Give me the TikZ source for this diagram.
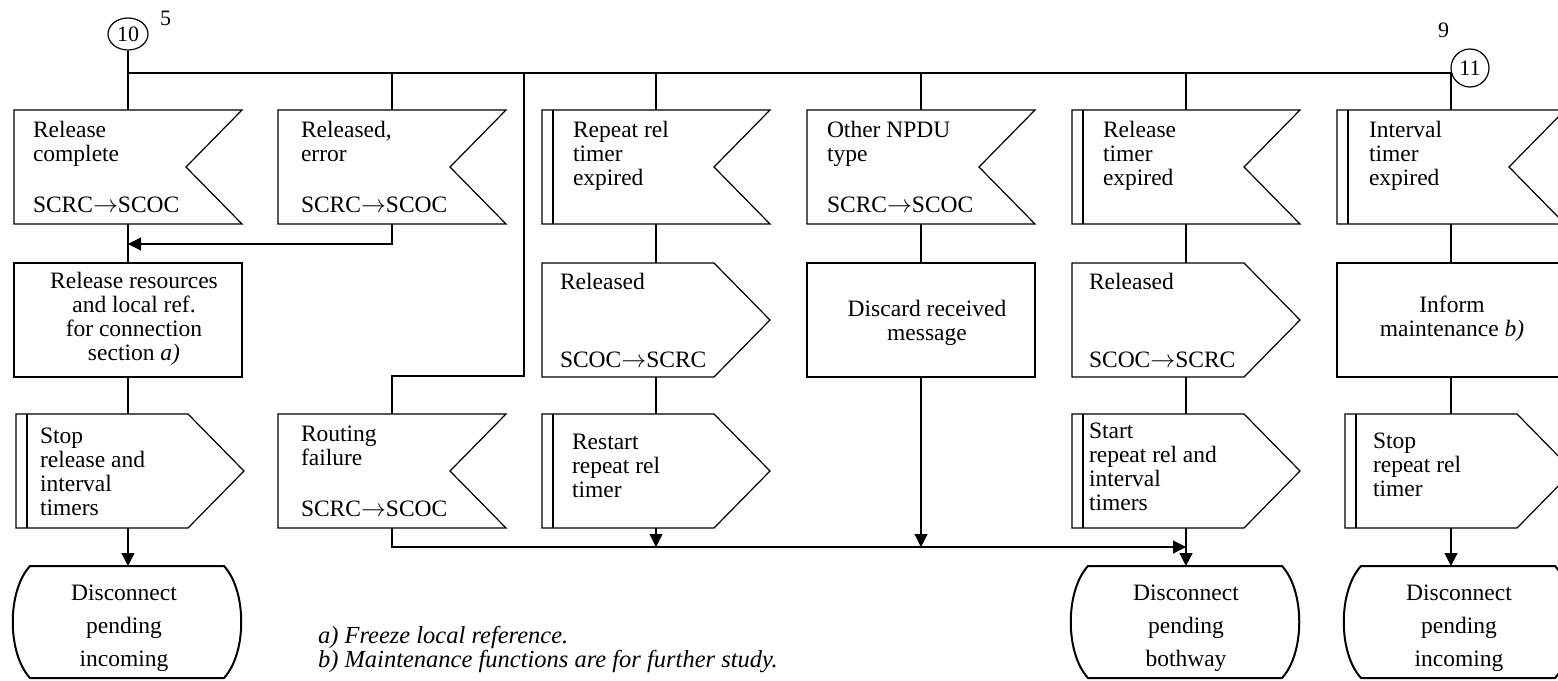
\documentclass[tikz,border=0pt]{standalone}
\usepackage{fontspec}
\setmainfont{Liberation Serif}
\usetikzlibrary{calc,arrows.meta,shapes.geometric}
\newcommand\fsz{\fontsize{23.5}{24}\selectfont}
\newcommand\tsz{\fontsize{23.5}{33}\selectfont}
\newcommand\csz{\fontsize{22}{24}\selectfont}
\newcommand\fnsz{\fontsize{24.5}{23.5}\selectfont}
\newcommand\ar{\ensuremath{\rightarrow}}
\newcommand\tl[1]{\begin{tabular}[t]{@{}l@{}}#1\end{tabular}}
\newcommand\tc[1]{\begin{tabular}[t]{@{}c@{}}#1\end{tabular}}
\newcommand\inshape[1]{\draw[ln] (#1.north west) -- (#1.north east) -- ($(#1.east)+(-56,0)$) -- (#1.south east) -- (#1.south west) -- cycle;}
\newcommand\outshape[1]{\draw[ln] (#1.north west) -- ($(#1.north east)+(-56,0)$) -- (#1.east) -- ($(#1.south east)+(-56,0)$) -- (#1.south west) -- cycle;}
\newcommand\procshape[1]{\draw[ln] (#1.north west) rectangle (#1.south east);}
\newcommand\barmark[1]{\draw[barln] ($(#1.north west)+(11,0)$) -- ($(#1.south west)+(11,0)$);}
\newcommand\termshape[1]{\draw[term] ($(#1.north west)+(17,0)$) -- ($(#1.north east)+(-17,0)$) .. controls ($(#1.north east)+(6,25)$) and ($(#1.south east)+(6,-25)$) .. ($(#1.south east)+(-17,0)$) -- ($(#1.south west)+(17,0)$) .. controls ($(#1.south west)+(-6,-25)$) and ($(#1.north west)+(-6,25)$) .. cycle;}
\tikzset{
  ln/.style={line width=1.2pt},
  barln/.style={line width=2.4pt},
  term/.style={line width=2pt},
  bx/.style={draw=none, rectangle, minimum width=228, minimum height=114, inner sep=0, outer sep=0},
  tbx/.style={draw=none, rectangle, minimum width=228, minimum height=112, inner sep=0, outer sep=0},
  tx/.style={inner sep=0, outer sep=0, font=\fsz},
  ttx/.style={inner sep=0, outer sep=0, font=\tsz, anchor=base},
  arr/.style={ln, -{Triangle[width=13pt,length=13pt]}},
}
\begin{document}
\begin{tikzpicture}[x=1pt,y=-1pt]
\useasboundingbox (0,0) rectangle (1558,680);

% connectors circles and labels
\node[ellipse, draw, ln, minimum width=40, minimum height=32, inner sep=0, font=\csz] (c10) at (128,34) {10};
\node[circle, draw, ln, minimum size=38, inner sep=0, font=\csz] (c11) at (1470,68) {11};
\node[tx, font=\csz, anchor=base west] (l5) at (160,25) {5};
\node[tx, font=\csz, anchor=base west] (l9) at (1438,37) {9};

% row 1
\node[bx] (b1) at (128,167) {};
\node[bx] (b2) at (392,167) {};
\node[bx] (b3) at (656,167) {};
\node[bx] (b4) at (921,167) {};
\node[bx] (b5) at (1186,167) {};
\node[bx] (b6) at (1451,167) {};
\inshape{b1}\inshape{b2}\inshape{b3}\inshape{b4}\inshape{b5}\inshape{b6}
\barmark{b3}\barmark{b5}\barmark{b6}
\node[tx, anchor=base west] (b1t) at (33,137) {\tl{Release\\complete}};
\node[tx, anchor=base west] (b1s) at (33,212) {SCRC\ar SCOC};
\node[tx, anchor=base west] (b2t) at (301,137) {\tl{Released,\\error}};
\node[tx, anchor=base west] (b2s) at (301,212) {SCRC\ar SCOC};
\node[tx, anchor=base west] (b3t) at (573,137) {\tl{Repeat rel\\timer\\expired}};
\node[tx, anchor=base west] (b4t) at (827,137) {\tl{Other NPDU\\type}};
\node[tx, anchor=base west] (b4s) at (827,212) {SCRC\ar SCOC};
\node[tx, anchor=base west] (b5t) at (1103,137) {\tl{Release\\timer\\expired}};
\node[tx, anchor=base west] (b6t) at (1369,137) {\tl{Interval\\timer\\expired}};

% row 2
\node[bx] (p1) at (128,320) {};
\node[bx] (o3) at (656,320) {};
\node[bx] (p4) at (921,320) {};
\node[bx] (o5) at (1186,320) {};
\node[bx] (p6) at (1451,320) {};
\procshape{p1}\outshape{o3}\procshape{p4}\outshape{o5}\procshape{p6}
\node[tx, anchor=base] (p1t) at (134,288) {\tc{Release resources\\and local ref.\\for connection\\section \textit{a)}}};
\node[tx, anchor=base west] (o3t) at (560,289) {Released};
\node[tx, anchor=base west] (o3s) at (560,367) {SCOC\ar SCRC};
\node[tx, anchor=base] (p4t) at (927,316) {\tc{Discard received\\message}};
\node[tx, anchor=base west] (o5t) at (1089,289) {Released};
\node[tx, anchor=base west] (o5s) at (1089,367) {SCOC\ar SCRC};
\node[tx, anchor=base] (p6t) at (1452,312) {\tc{Inform\\maintenance \textit{b)}}};

% row 3
\node[bx] (s1) at (130,471) {};
\node[bx] (rf) at (392,471) {};
\node[bx] (s3) at (656,471) {};
\node[bx] (s5) at (1186,471) {};
\node[bx] (s6) at (1459,471) {};
\outshape{s1}\inshape{rf}\outshape{s3}\outshape{s5}\outshape{s6}
\barmark{s1}\barmark{s3}\barmark{s5}\barmark{s6}
\node[tx, anchor=base west] (s1t) at (40,443) {\tl{Stop\\release and\\interval\\timers}};
\node[tx, anchor=base west] (rft) at (301,441) {\tl{Routing\\failure}};
\node[tx, anchor=base west] (rfs) at (301,516) {SCRC\ar SCOC};
\node[tx, anchor=base west] (s3t) at (572,449) {\tl{Restart\\repeat rel\\timer}};
\node[tx, anchor=base west] (s5t) at (1089,438) {\tl{Start\\repeat rel and\\interval\\timers}};
\node[tx, anchor=base west] (s6t) at (1373,448) {\tl{Stop\\repeat rel\\timer}};

% terminals
\node[tbx] (t1) at (127,622) {};
\node[tbx] (t5) at (1185,622) {};
\node[tbx] (t6) at (1458,622) {};
\termshape{t1}\termshape{t5}\termshape{t6}
\node[ttx] (t1t) at (124,600) {\tc{Disconnect\\pending\\incoming}};
\node[ttx] (t5t) at (1186,600) {\tc{Disconnect\\pending\\bothway}};
\node[ttx] (t6t) at (1459,600) {\tc{Disconnect\\pending\\incoming}};

% footnotes
\node[tx, font=\fnsz, anchor=base west] (fn) at (318,643) {\itshape\tl{a) Freeze local reference.\\b) Maintenance functions are for further study.}};

% helper coordinates
\coordinate (bus) at (0,73);
\coordinate (busL) at (128,73);
\coordinate (busR) at (1451,73);
\coordinate (jog) at (524,376);
\coordinate (mrg) at (0,244);
\coordinate (low) at (0,547);

% connectors
\draw[ln] (c10.south) -- (b1.north);
\draw[ln] (busL) -- (busR) -- (b6.north);
\draw[ln] (b2.north |- bus) -- (b2.north);
\draw[ln] (b3.north |- bus) -- (b3.north);
\draw[ln] (b4.north |- bus) -- (b4.north);
\draw[ln] (b5.north |- bus) -- (b5.north);
\draw[ln] (jog |- bus) -- (jog) -| (rf.north);
\draw[arr] (b2.south) -- (b2.south |- mrg) -- (b1.south |- mrg);
\draw[ln] (b1.south) -- (p1.north);
\draw[ln] (p1.south) -- (p1.south |- s1.north);
\draw[arr] (p1.south |- s1.south) -- (p1.south |- t1.north);
\draw[ln] (b3.south) -- (o3.north);
\draw[ln] (o3.south) -- (s3.north);
\draw[arr] (s3.south) -- (s3.south |- low);
\draw[ln] (b4.south) -- (p4.north);
\draw[arr] (p4.south) -- (p4.south |- low);
\draw[arr] (rf.south) -- (rf.south |- low) -- (s5.south |- low);
\draw[ln] (b5.south) -- (o5.north);
\draw[ln] (o5.south) -- (s5.north);
\draw[arr] (s5.south) -- (s5.south |- t5.north);
\draw[ln] (b6.south) -- (p6.north);
\draw[ln] (p6.south) -- (p6.south |- s6.north);
\draw[arr] (p6.south |- s6.south) -- (p6.south |- t6.north);
\end{tikzpicture}
\end{document}
